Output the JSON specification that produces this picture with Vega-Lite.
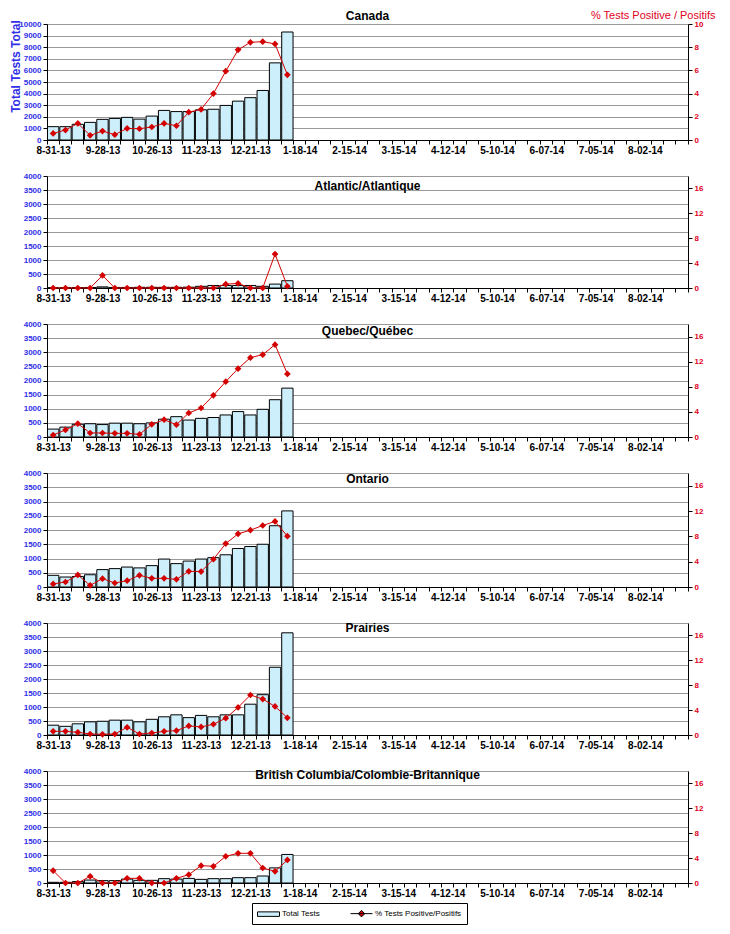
{
"$schema": "https://vega.github.io/schema/vega-lite/v6.json",
"padding": {"left": 9, "top": 9, "right": 5, "bottom": 5},
"background": "white",
"spacing": 17,
"config": {
  "font": "Liberation Sans",
  "view": {"stroke": null},
  "title": {"font": "Liberation Sans", "fontSize": 12, "fontWeight": "bold", "anchor": "middle", "frame": "group", "color": "#000"},
  "axisX": {"labelFontSize": 10, "labelFontWeight": "bold", "labelColor": "#000", "tickSize": 4, "labelPadding": 1, "grid": false, "domainColor": "#000", "tickColor": "#000", "labelAngle": 0, "tickBand": "extent", "labelOverlap": false},
  "axisY": {"labelFontSize": 8, "labelFontWeight": "bold", "tickSize": 4, "labelPadding": 2, "domainColor": "#000", "tickColor": "#000", "gridColor": "#999", "gridOpacity": 1}
},
"datasets": {"d": [
{"region":"Canada","week":"8-31-13","tests":1150,"pct":0.57},
{"region":"Canada","week":"9-07-13","tests":1150,"pct":0.86},
{"region":"Canada","week":"9-14-13","tests":1350,"pct":1.43},
{"region":"Canada","week":"9-21-13","tests":1520,"pct":0.4},
{"region":"Canada","week":"9-28-13","tests":1780,"pct":0.77},
{"region":"Canada","week":"10-05-13","tests":1860,"pct":0.46},
{"region":"Canada","week":"10-12-13","tests":1950,"pct":1.0},
{"region":"Canada","week":"10-19-13","tests":1800,"pct":0.97},
{"region":"Canada","week":"10-26-13","tests":2060,"pct":1.12},
{"region":"Canada","week":"11-02-13","tests":2550,"pct":1.43},
{"region":"Canada","week":"11-09-13","tests":2450,"pct":1.23},
{"region":"Canada","week":"11-16-13","tests":2450,"pct":2.4},
{"region":"Canada","week":"11-23-13","tests":2600,"pct":2.64},
{"region":"Canada","week":"11-30-13","tests":2650,"pct":4.0},
{"region":"Canada","week":"12-07-13","tests":2980,"pct":5.93},
{"region":"Canada","week":"12-14-13","tests":3350,"pct":7.77},
{"region":"Canada","week":"12-21-13","tests":3650,"pct":8.42},
{"region":"Canada","week":"12-28-13","tests":4270,"pct":8.48},
{"region":"Canada","week":"1-04-14","tests":6650,"pct":8.28},
{"region":"Canada","week":"1-11-14","tests":9310,"pct":5.62},
{"region":"Atlantic","week":"8-31-13","tests":10,"pct":0},
{"region":"Atlantic","week":"9-07-13","tests":10,"pct":0},
{"region":"Atlantic","week":"9-14-13","tests":15,"pct":0},
{"region":"Atlantic","week":"9-21-13","tests":20,"pct":0},
{"region":"Atlantic","week":"9-28-13","tests":40,"pct":2.02},
{"region":"Atlantic","week":"10-05-13","tests":20,"pct":0},
{"region":"Atlantic","week":"10-12-13","tests":20,"pct":0},
{"region":"Atlantic","week":"10-19-13","tests":25,"pct":0},
{"region":"Atlantic","week":"10-26-13","tests":25,"pct":0},
{"region":"Atlantic","week":"11-02-13","tests":25,"pct":0},
{"region":"Atlantic","week":"11-09-13","tests":25,"pct":0},
{"region":"Atlantic","week":"11-16-13","tests":30,"pct":0},
{"region":"Atlantic","week":"11-23-13","tests":60,"pct":0},
{"region":"Atlantic","week":"11-30-13","tests":90,"pct":0},
{"region":"Atlantic","week":"12-07-13","tests":90,"pct":0.62},
{"region":"Atlantic","week":"12-14-13","tests":90,"pct":0.73},
{"region":"Atlantic","week":"12-21-13","tests":90,"pct":0},
{"region":"Atlantic","week":"12-28-13","tests":60,"pct":0},
{"region":"Atlantic","week":"1-04-14","tests":140,"pct":5.45},
{"region":"Atlantic","week":"1-11-14","tests":260,"pct":0.28},
{"region":"Quebec","week":"8-31-13","tests":280,"pct":0.32},
{"region":"Quebec","week":"9-07-13","tests":350,"pct":1.12},
{"region":"Quebec","week":"9-14-13","tests":450,"pct":2.12},
{"region":"Quebec","week":"9-21-13","tests":470,"pct":0.64},
{"region":"Quebec","week":"9-28-13","tests":440,"pct":0.64},
{"region":"Quebec","week":"10-05-13","tests":490,"pct":0.58},
{"region":"Quebec","week":"10-12-13","tests":490,"pct":0.58},
{"region":"Quebec","week":"10-19-13","tests":470,"pct":0.42},
{"region":"Quebec","week":"10-26-13","tests":500,"pct":2.02},
{"region":"Quebec","week":"11-02-13","tests":630,"pct":2.76},
{"region":"Quebec","week":"11-09-13","tests":720,"pct":1.96},
{"region":"Quebec","week":"11-16-13","tests":600,"pct":3.82},
{"region":"Quebec","week":"11-23-13","tests":660,"pct":4.62},
{"region":"Quebec","week":"11-30-13","tests":690,"pct":6.64},
{"region":"Quebec","week":"12-07-13","tests":780,"pct":8.82},
{"region":"Quebec","week":"12-14-13","tests":900,"pct":10.89},
{"region":"Quebec","week":"12-21-13","tests":780,"pct":12.64},
{"region":"Quebec","week":"12-28-13","tests":980,"pct":13.12},
{"region":"Quebec","week":"1-04-14","tests":1320,"pct":14.71},
{"region":"Quebec","week":"1-11-14","tests":1730,"pct":10.04},
{"region":"Ontario","week":"8-31-13","tests":410,"pct":0.48},
{"region":"Ontario","week":"9-07-13","tests":350,"pct":0.79},
{"region":"Ontario","week":"9-14-13","tests":370,"pct":1.9},
{"region":"Ontario","week":"9-21-13","tests":430,"pct":0.26},
{"region":"Ontario","week":"9-28-13","tests":610,"pct":1.32},
{"region":"Ontario","week":"10-05-13","tests":645,"pct":0.63},
{"region":"Ontario","week":"10-12-13","tests":700,"pct":1.0},
{"region":"Ontario","week":"10-19-13","tests":670,"pct":1.85},
{"region":"Ontario","week":"10-26-13","tests":750,"pct":1.37},
{"region":"Ontario","week":"11-02-13","tests":980,"pct":1.37},
{"region":"Ontario","week":"11-09-13","tests":820,"pct":1.21},
{"region":"Ontario","week":"11-16-13","tests":910,"pct":2.48},
{"region":"Ontario","week":"11-23-13","tests":980,"pct":2.43},
{"region":"Ontario","week":"11-30-13","tests":1030,"pct":4.38},
{"region":"Ontario","week":"12-07-13","tests":1130,"pct":6.86},
{"region":"Ontario","week":"12-14-13","tests":1350,"pct":8.39},
{"region":"Ontario","week":"12-21-13","tests":1420,"pct":8.98},
{"region":"Ontario","week":"12-28-13","tests":1500,"pct":9.71},
{"region":"Ontario","week":"1-04-14","tests":2150,"pct":10.35},
{"region":"Ontario","week":"1-11-14","tests":2670,"pct":8.03},
{"region":"Prairies","week":"8-31-13","tests":350,"pct":0.59},
{"region":"Prairies","week":"9-07-13","tests":310,"pct":0.59},
{"region":"Prairies","week":"9-14-13","tests":400,"pct":0.43},
{"region":"Prairies","week":"9-21-13","tests":470,"pct":0.16},
{"region":"Prairies","week":"9-28-13","tests":490,"pct":0.11},
{"region":"Prairies","week":"10-05-13","tests":530,"pct":0.16},
{"region":"Prairies","week":"10-12-13","tests":530,"pct":1.24},
{"region":"Prairies","week":"10-19-13","tests":470,"pct":0.16},
{"region":"Prairies","week":"10-26-13","tests":560,"pct":0.32},
{"region":"Prairies","week":"11-02-13","tests":650,"pct":0.59},
{"region":"Prairies","week":"11-09-13","tests":720,"pct":0.7},
{"region":"Prairies","week":"11-16-13","tests":620,"pct":1.46},
{"region":"Prairies","week":"11-23-13","tests":700,"pct":1.3},
{"region":"Prairies","week":"11-30-13","tests":650,"pct":1.73},
{"region":"Prairies","week":"12-07-13","tests":720,"pct":2.7},
{"region":"Prairies","week":"12-14-13","tests":720,"pct":4.43},
{"region":"Prairies","week":"12-21-13","tests":1100,"pct":6.43},
{"region":"Prairies","week":"12-28-13","tests":1440,"pct":5.78},
{"region":"Prairies","week":"1-04-14","tests":2420,"pct":4.59},
{"region":"Prairies","week":"1-11-14","tests":3650,"pct":2.76},
{"region":"BC","week":"8-31-13","tests":25,"pct":1.98},
{"region":"BC","week":"9-07-13","tests":25,"pct":0},
{"region":"BC","week":"9-14-13","tests":50,"pct":0},
{"region":"BC","week":"9-21-13","tests":105,"pct":1.07},
{"region":"BC","week":"9-28-13","tests":85,"pct":0},
{"region":"BC","week":"10-05-13","tests":85,"pct":0},
{"region":"BC","week":"10-12-13","tests":140,"pct":0.75},
{"region":"BC","week":"10-19-13","tests":95,"pct":0.75},
{"region":"BC","week":"10-26-13","tests":95,"pct":0},
{"region":"BC","week":"11-02-13","tests":155,"pct":0},
{"region":"BC","week":"11-09-13","tests":140,"pct":0.75},
{"region":"BC","week":"11-16-13","tests":165,"pct":1.34},
{"region":"BC","week":"11-23-13","tests":130,"pct":2.79},
{"region":"BC","week":"11-30-13","tests":155,"pct":2.68},
{"region":"BC","week":"12-07-13","tests":155,"pct":4.29},
{"region":"BC","week":"12-14-13","tests":190,"pct":4.77},
{"region":"BC","week":"12-21-13","tests":190,"pct":4.77},
{"region":"BC","week":"12-28-13","tests":250,"pct":2.41},
{"region":"BC","week":"1-04-14","tests":540,"pct":1.87},
{"region":"BC","week":"1-11-14","tests":1020,"pct":3.7}
]},
"vconcat": [
{
  "width": 641, "height": 116,
  "title": {"text": "Canada", "offset": -14},
  "data": {"name": "d"},
  "transform": [{"filter": "datum.region === 'Canada'"}],
  "encoding": {"x": {"field": "week", "type": "ordinal",
    "scale": {"domain": ["8-31-13","9-07-13","9-14-13","9-21-13","9-28-13","10-05-13","10-12-13","10-19-13","10-26-13","11-02-13","11-09-13","11-16-13","11-23-13","11-30-13","12-07-13","12-14-13","12-21-13","12-28-13","1-04-14","1-11-14","1-18-14","1-25-14","2-01-14","2-08-14","2-15-14","2-22-14","3-01-14","3-08-14","3-15-14","3-22-14","3-29-14","4-05-14","4-12-14","4-19-14","4-26-14","5-03-14","5-10-14","5-17-14","5-24-14","5-31-14","6-07-14","6-14-14","6-21-14","6-28-14","7-05-14","7-12-14","7-19-14","7-26-14","8-02-14","8-09-14","8-16-14","8-23-14"], "paddingInner": 0.08, "paddingOuter": 0.04},
    "axis": {"title": null, "labelExpr": "indexof(['8-31-13','9-28-13','10-26-13','11-23-13','12-21-13','1-18-14','2-15-14','3-15-14','4-12-14','5-10-14','6-07-14','7-05-14','8-02-14'], datum.value) >= 0 ? datum.value : ''"}}},
  "layer": [
    {"mark": {"type": "bar", "fill": "#CDEFFC", "stroke": "#000", "strokeWidth": 1},
     "encoding": {"y": {"field": "tests", "type": "quantitative", "scale": {"domain": [0, 10000]},
       "axis": {"orient": "left", "format": "d", "values": [0,1000,2000,3000,4000,5000,6000,7000,8000,9000,10000], "labelColor": "#3030E8", "grid": true, "title": "Total Tests Total", "titleColor": "#3030E8", "titleFontSize": 12, "titleFontWeight": "bold", "titleX": -25, "titleY": 42}}}},
    {"mark": {"type": "line", "color": "#D40000", "strokeWidth": 1, "point": {"filled": true, "shape": "diamond", "size": 45, "color": "#D40000"}},
     "encoding": {"y": {"field": "pct", "type": "quantitative", "scale": {"domain": [0, 10]},
       "axis": {"orient": "right", "values": [0,2,4,6,8,10], "labelColor": "#E0001A", "grid": false, "title": "% Tests Positive / Positifs", "titleAngle": 0, "titleX": 27, "titleY": -6, "titleAlign": "right", "titleBaseline": "alphabetic", "titleColor": "#E0001A", "titleFontSize": 11, "titleFontWeight": "normal"}}}}
  ],
  "resolve": {"scale": {"y": "independent"}}
},
{
  "width": 641, "height": 112,
  "title": {"text": "Atlantic/Atlantique", "offset": -21},
  "data": {"name": "d"},
  "transform": [{"filter": "datum.region === 'Atlantic'"}],
  "encoding": {"x": {"field": "week", "type": "ordinal",
    "scale": {"domain": ["8-31-13","9-07-13","9-14-13","9-21-13","9-28-13","10-05-13","10-12-13","10-19-13","10-26-13","11-02-13","11-09-13","11-16-13","11-23-13","11-30-13","12-07-13","12-14-13","12-21-13","12-28-13","1-04-14","1-11-14","1-18-14","1-25-14","2-01-14","2-08-14","2-15-14","2-22-14","3-01-14","3-08-14","3-15-14","3-22-14","3-29-14","4-05-14","4-12-14","4-19-14","4-26-14","5-03-14","5-10-14","5-17-14","5-24-14","5-31-14","6-07-14","6-14-14","6-21-14","6-28-14","7-05-14","7-12-14","7-19-14","7-26-14","8-02-14","8-09-14","8-16-14","8-23-14"], "paddingInner": 0.08, "paddingOuter": 0.04},
    "axis": {"title": null, "labelExpr": "indexof(['8-31-13','9-28-13','10-26-13','11-23-13','12-21-13','1-18-14','2-15-14','3-15-14','4-12-14','5-10-14','6-07-14','7-05-14','8-02-14'], datum.value) >= 0 ? datum.value : ''"}}},
  "layer": [
    {"mark": {"type": "bar", "fill": "#CDEFFC", "stroke": "#000", "strokeWidth": 1},
     "encoding": {"y": {"field": "tests", "type": "quantitative", "scale": {"domain": [0, 4000]},
       "axis": {"orient": "left", "format": "d", "values": [0,500,1000,1500,2000,2500,3000,3500,4000], "labelColor": "#3030E8", "grid": true, "title": null}}}},
    {"mark": {"type": "line", "color": "#D40000", "strokeWidth": 1, "point": {"filled": true, "shape": "diamond", "size": 45, "color": "#D40000"}},
     "encoding": {"y": {"field": "pct", "type": "quantitative", "scale": {"domain": [0, 18]},
       "axis": {"orient": "right", "values": [0,4,8,12,16], "labelColor": "#E0001A", "grid": false, "title": null}}}}
  ],
  "resolve": {"scale": {"y": "independent"}}
},
{
  "width": 641, "height": 113,
  "title": {"text": "Quebec/Québec", "offset": -18},
  "data": {"name": "d"},
  "transform": [{"filter": "datum.region === 'Quebec'"}],
  "encoding": {"x": {"field": "week", "type": "ordinal",
    "scale": {"domain": ["8-31-13","9-07-13","9-14-13","9-21-13","9-28-13","10-05-13","10-12-13","10-19-13","10-26-13","11-02-13","11-09-13","11-16-13","11-23-13","11-30-13","12-07-13","12-14-13","12-21-13","12-28-13","1-04-14","1-11-14","1-18-14","1-25-14","2-01-14","2-08-14","2-15-14","2-22-14","3-01-14","3-08-14","3-15-14","3-22-14","3-29-14","4-05-14","4-12-14","4-19-14","4-26-14","5-03-14","5-10-14","5-17-14","5-24-14","5-31-14","6-07-14","6-14-14","6-21-14","6-28-14","7-05-14","7-12-14","7-19-14","7-26-14","8-02-14","8-09-14","8-16-14","8-23-14"], "paddingInner": 0.08, "paddingOuter": 0.04},
    "axis": {"title": null, "labelExpr": "indexof(['8-31-13','9-28-13','10-26-13','11-23-13','12-21-13','1-18-14','2-15-14','3-15-14','4-12-14','5-10-14','6-07-14','7-05-14','8-02-14'], datum.value) >= 0 ? datum.value : ''"}}},
  "layer": [
    {"mark": {"type": "bar", "fill": "#CDEFFC", "stroke": "#000", "strokeWidth": 1},
     "encoding": {"y": {"field": "tests", "type": "quantitative", "scale": {"domain": [0, 4000]},
       "axis": {"orient": "left", "format": "d", "values": [0,500,1000,1500,2000,2500,3000,3500,4000], "labelColor": "#3030E8", "grid": true, "title": null}}}},
    {"mark": {"type": "line", "color": "#D40000", "strokeWidth": 1, "point": {"filled": true, "shape": "diamond", "size": 45, "color": "#D40000"}},
     "encoding": {"y": {"field": "pct", "type": "quantitative", "scale": {"domain": [0, 18]},
       "axis": {"orient": "right", "values": [0,4,8,12,16], "labelColor": "#E0001A", "grid": false, "title": null}}}}
  ],
  "resolve": {"scale": {"y": "independent"}}
},
{
  "width": 641, "height": 114,
  "title": {"text": "Ontario", "offset": -17},
  "data": {"name": "d"},
  "transform": [{"filter": "datum.region === 'Ontario'"}],
  "encoding": {"x": {"field": "week", "type": "ordinal",
    "scale": {"domain": ["8-31-13","9-07-13","9-14-13","9-21-13","9-28-13","10-05-13","10-12-13","10-19-13","10-26-13","11-02-13","11-09-13","11-16-13","11-23-13","11-30-13","12-07-13","12-14-13","12-21-13","12-28-13","1-04-14","1-11-14","1-18-14","1-25-14","2-01-14","2-08-14","2-15-14","2-22-14","3-01-14","3-08-14","3-15-14","3-22-14","3-29-14","4-05-14","4-12-14","4-19-14","4-26-14","5-03-14","5-10-14","5-17-14","5-24-14","5-31-14","6-07-14","6-14-14","6-21-14","6-28-14","7-05-14","7-12-14","7-19-14","7-26-14","8-02-14","8-09-14","8-16-14","8-23-14"], "paddingInner": 0.08, "paddingOuter": 0.04},
    "axis": {"title": null, "labelExpr": "indexof(['8-31-13','9-28-13','10-26-13','11-23-13','12-21-13','1-18-14','2-15-14','3-15-14','4-12-14','5-10-14','6-07-14','7-05-14','8-02-14'], datum.value) >= 0 ? datum.value : ''"}}},
  "layer": [
    {"mark": {"type": "bar", "fill": "#CDEFFC", "stroke": "#000", "strokeWidth": 1},
     "encoding": {"y": {"field": "tests", "type": "quantitative", "scale": {"domain": [0, 4000]},
       "axis": {"orient": "left", "format": "d", "values": [0,500,1000,1500,2000,2500,3000,3500,4000], "labelColor": "#3030E8", "grid": true, "title": null}}}},
    {"mark": {"type": "line", "color": "#D40000", "strokeWidth": 1, "point": {"filled": true, "shape": "diamond", "size": 45, "color": "#D40000"}},
     "encoding": {"y": {"field": "pct", "type": "quantitative", "scale": {"domain": [0, 18]},
       "axis": {"orient": "right", "values": [0,4,8,12,16], "labelColor": "#E0001A", "grid": false, "title": null}}}}
  ],
  "resolve": {"scale": {"y": "independent"}}
},
{
  "width": 641, "height": 112,
  "title": {"text": "Prairies", "offset": -16},
  "data": {"name": "d"},
  "transform": [{"filter": "datum.region === 'Prairies'"}],
  "encoding": {"x": {"field": "week", "type": "ordinal",
    "scale": {"domain": ["8-31-13","9-07-13","9-14-13","9-21-13","9-28-13","10-05-13","10-12-13","10-19-13","10-26-13","11-02-13","11-09-13","11-16-13","11-23-13","11-30-13","12-07-13","12-14-13","12-21-13","12-28-13","1-04-14","1-11-14","1-18-14","1-25-14","2-01-14","2-08-14","2-15-14","2-22-14","3-01-14","3-08-14","3-15-14","3-22-14","3-29-14","4-05-14","4-12-14","4-19-14","4-26-14","5-03-14","5-10-14","5-17-14","5-24-14","5-31-14","6-07-14","6-14-14","6-21-14","6-28-14","7-05-14","7-12-14","7-19-14","7-26-14","8-02-14","8-09-14","8-16-14","8-23-14"], "paddingInner": 0.08, "paddingOuter": 0.04},
    "axis": {"title": null, "labelExpr": "indexof(['8-31-13','9-28-13','10-26-13','11-23-13','12-21-13','1-18-14','2-15-14','3-15-14','4-12-14','5-10-14','6-07-14','7-05-14','8-02-14'], datum.value) >= 0 ? datum.value : ''"}}},
  "layer": [
    {"mark": {"type": "bar", "fill": "#CDEFFC", "stroke": "#000", "strokeWidth": 1},
     "encoding": {"y": {"field": "tests", "type": "quantitative", "scale": {"domain": [0, 4000]},
       "axis": {"orient": "left", "format": "d", "values": [0,500,1000,1500,2000,2500,3000,3500,4000], "labelColor": "#3030E8", "grid": true, "title": null}}}},
    {"mark": {"type": "line", "color": "#D40000", "strokeWidth": 1, "point": {"filled": true, "shape": "diamond", "size": 45, "color": "#D40000"}},
     "encoding": {"y": {"field": "pct", "type": "quantitative", "scale": {"domain": [0, 18]},
       "axis": {"orient": "right", "values": [0,4,8,12,16], "labelColor": "#E0001A", "grid": false, "title": null}}}}
  ],
  "resolve": {"scale": {"y": "independent"}}
},
{
  "width": 641, "height": 112,
  "title": {"text": "British Columbia/Colombie-Britannique", "offset": -15},
  "data": {"name": "d"},
  "transform": [{"filter": "datum.region === 'BC'"}],
  "encoding": {"x": {"field": "week", "type": "ordinal",
    "scale": {"domain": ["8-31-13","9-07-13","9-14-13","9-21-13","9-28-13","10-05-13","10-12-13","10-19-13","10-26-13","11-02-13","11-09-13","11-16-13","11-23-13","11-30-13","12-07-13","12-14-13","12-21-13","12-28-13","1-04-14","1-11-14","1-18-14","1-25-14","2-01-14","2-08-14","2-15-14","2-22-14","3-01-14","3-08-14","3-15-14","3-22-14","3-29-14","4-05-14","4-12-14","4-19-14","4-26-14","5-03-14","5-10-14","5-17-14","5-24-14","5-31-14","6-07-14","6-14-14","6-21-14","6-28-14","7-05-14","7-12-14","7-19-14","7-26-14","8-02-14","8-09-14","8-16-14","8-23-14"], "paddingInner": 0.08, "paddingOuter": 0.04},
    "axis": {"title": null, "labelExpr": "indexof(['8-31-13','9-28-13','10-26-13','11-23-13','12-21-13','1-18-14','2-15-14','3-15-14','4-12-14','5-10-14','6-07-14','7-05-14','8-02-14'], datum.value) >= 0 ? datum.value : ''"}}},
  "layer": [
    {"mark": {"type": "bar", "stroke": "#000", "strokeWidth": 1},
     "encoding": {
       "y": {"field": "tests", "type": "quantitative", "scale": {"domain": [0, 4000]},
         "axis": {"orient": "left", "format": "d", "values": [0,500,1000,1500,2000,2500,3000,3500,4000], "labelColor": "#3030E8", "grid": true, "title": null}},
       "color": {"datum": "Total Tests", "type": "nominal",
         "scale": {"domain": ["Total Tests", "% Tests Positive/Positifs"], "range": ["#CDEFFC", "#D40000"]},
         "legend": {"orient": "none", "legendX": 205, "legendY": 879, "direction": "horizontal", "title": null, "strokeColor": "#000", "fillColor": "#fff", "padding": 5, "labelFontSize": 8, "labelFont": "Liberation Sans", "labelColor": "#000", "symbolSize": 100,
           "symbolType": {"expr": "datum.value === 'Total Tests' ? 'M-1,-0.45H3.4V0.45H-1Z' : 'M-1,0H3.4M1.2,-0.65L1.85,0L1.2,0.65L0.55,0Z'"},
           "columnPadding": 28, "labelOffset": 14, "symbolStrokeWidth": 1,
           "encode": {"symbols": {
             "fill": {"value": {"expr": "datum.value === 'Total Tests' ? '#CDEFFC' : '#D40000'"}},
             "stroke": {"value": {"expr": "datum.value === 'Total Tests' ? '#000000' : '#D40000'"}},
             "strokeWidth": {"value": 1},
             "opacity": {"value": 1},
             "fillOpacity": {"value": 1},
             "strokeOpacity": {"value": 1}
           }}}}
     }},
    {"mark": {"type": "line", "color": "#D40000", "strokeWidth": 1, "point": {"filled": true, "shape": "diamond", "size": 45, "color": "#D40000"}},
     "encoding": {
       "y": {"field": "pct", "type": "quantitative", "scale": {"domain": [0, 18]},
         "axis": {"orient": "right", "values": [0,4,8,12,16], "labelColor": "#E0001A", "grid": false, "title": null}}
     }}
  ],
  "resolve": {"scale": {"y": "independent"}}
}
]
}
